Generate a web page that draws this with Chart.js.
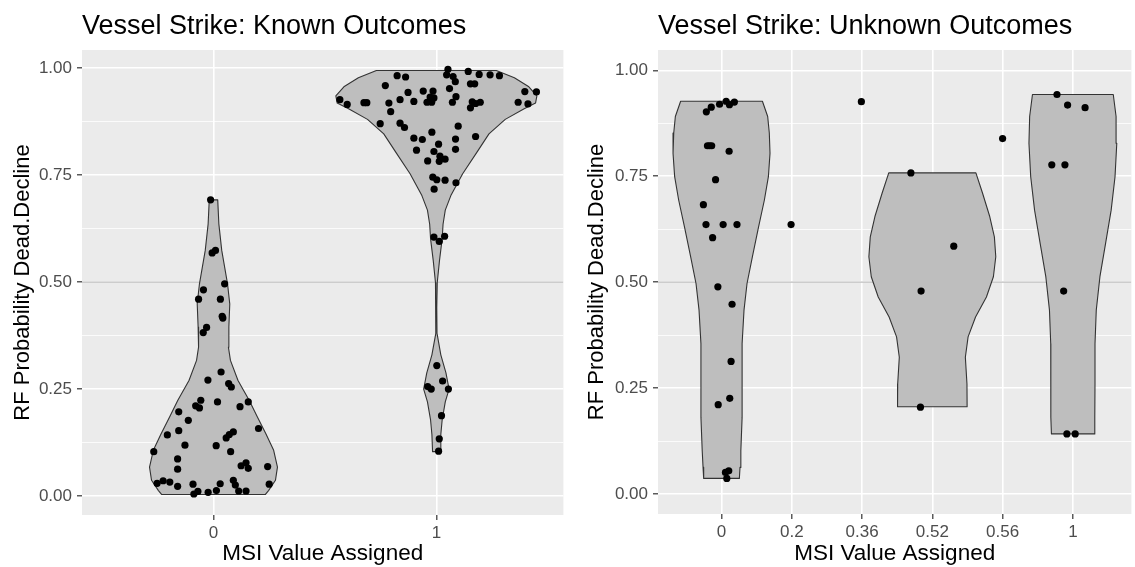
<!DOCTYPE html>
<html>
<head>
<meta charset="utf-8">
<script src="https://cdn.jsdelivr.net/npm/chart.js@4.4.0/dist/chart.umd.min.js"></script>
<style>
  html, body { margin: 0; padding: 0; background: #fff; overflow: hidden; }
  #wrap { position: relative; width: 1135px; height: 567px; }
  canvas { position: absolute; top: 0; }
</style>
</head>
<body>
<div id="wrap">
  <canvas id="knownChart" width="567" height="567" style="left:0"></canvas>
  <canvas id="unknownChart" width="568" height="567" style="left:567px"></canvas>
</div>
<script>
// shared
var cutoffLine = 0.5;
var yTickValues = [0, 0.125, 0.25, 0.375, 0.5, 0.625, 0.75, 0.875, 1];

// ---- Known outcomes ----
var knownCategories = ['0', '1'];
// jittered points (x = category index + jitter)
var knownPointX = [
  -0.013, -0.006, 0.009, 0.050, -0.045, -0.067, 0.031, 0.039, 0.042, -0.031, -0.046,
  0.034, -0.025, 0.068, 0.080, -0.057, -0.080, -0.063, 0.018, 0.156, 0.119, -0.156,
  -0.113, 0.202, -0.156, -0.207, 0.089, 0.071, 0.057, -0.128, 0.012, -0.268, 0.077,
  -0.161, -0.161, 0.124, 0.146, 0.156, 0.243, -0.253, -0.226, -0.196, -0.161, -0.092,
  0.030, 0.089, 0.098, 0.250, -0.088, -0.070, -0.024, 0.013, 0.113, 0.146,
  1.052, 1.046, 1.143, 1.075, 1.192, 1.241, 1.283, 0.824, 0.862, 0.771, 1.153, 1.172,
  1.085, 1.059, 0.873, 0.941, 0.985, 1.449, 1.397, 0.837, 0.899, 0.972, 0.958, 0.979,
  0.989, 1.088, 1.072, 1.161, 1.197, 1.176, 1.153, 1.367, 1.411, 0.567, 0.600, 0.675,
  0.688, 0.787, 0.795, 0.748, 0.837, 0.857, 0.899, 0.937, 0.980, 1.098, 1.086, 1.176,
  0.911, 1.010, 0.989, 1.086, 0.961, 1.016, 1.039, 1.013, 0.984, 1.002, 1.039, 0.990,
  1.088, 0.989, 1.037, 1.013, 1.002, 1.028, 0.961, 0.977, 1.054, 1.023, 1.013, 1.010
];
var knownPointY = [
  0.692, 0.568, 0.574, 0.496, 0.482, 0.460, 0.460, 0.420, 0.416, 0.394, 0.382,
  0.290, 0.271, 0.263, 0.255, 0.224, 0.211, 0.206, 0.220, 0.220, 0.209, 0.197,
  0.177, 0.158, 0.153, 0.143, 0.150, 0.144, 0.136, 0.119, 0.118, 0.104, 0.104,
  0.087, 0.063, 0.071, 0.078, 0.065, 0.069, 0.030, 0.036, 0.033, 0.023, 0.028,
  0.029, 0.037, 0.026, 0.028, 0.005, 0.011, 0.009, 0.013, 0.012, 0.012,
  0.997, 0.984, 0.992, 0.980, 0.985, 0.984, 0.982, 0.982, 0.979, 0.959, 0.963, 0.963,
  0.968, 0.952, 0.943, 0.946, 0.946, 0.944, 0.945, 0.926, 0.922, 0.932, 0.920, 0.920,
  0.930, 0.933, 0.920, 0.921, 0.920, 0.917, 0.907, 0.920, 0.916, 0.926, 0.915, 0.919,
  0.919, 0.918, 0.898, 0.870, 0.871, 0.861, 0.836, 0.833, 0.850, 0.864, 0.834, 0.840,
  0.808, 0.822, 0.805, 0.810, 0.783, 0.794, 0.787, 0.782, 0.745, 0.739, 0.738, 0.717,
  0.732, 0.605, 0.607, 0.595, 0.305, 0.269, 0.256, 0.250, 0.250, 0.188, 0.134, 0.105
];
// violin outlines: y levels and half widths (in category units)
var knownViolin0Y = [0.004, 0.013, 0.037, 0.068, 0.107, 0.146, 0.185, 0.224, 0.270, 0.317, 0.348, 0.395, 0.449, 0.496, 0.574, 0.636, 0.692];
var knownViolin0W = [0.233, 0.247, 0.278, 0.287, 0.270, 0.235, 0.197, 0.160, 0.110, 0.076, 0.067, 0.069, 0.073, 0.063, 0.037, 0.024, 0.019];
var knownViolin1Y = [0.104, 0.144, 0.178, 0.220, 0.250, 0.288, 0.330, 0.380, 0.440, 0.499, 0.550, 0.601, 0.635, 0.668, 0.702, 0.753, 0.804, 0.846, 0.880, 0.905, 0.918, 0.935, 0.956, 0.977, 0.994];
var knownViolin1W = [0.017, 0.020, 0.026, 0.040, 0.057, 0.043, 0.020, 0.003, 0.002, 0.004, 0.014, 0.026, 0.030, 0.040, 0.065, 0.118, 0.183, 0.236, 0.309, 0.394, 0.445, 0.451, 0.415, 0.350, 0.269];

// ---- Unknown outcomes ----
var unknownCategories = ['0', '0.2', '0.36', '0.52', '0.56', '1'];
var unknownPointX = [
  0.183, 0.066, 0.113, -0.028, -0.146, -0.216, -0.200, -0.170, -0.140, 0.108, -0.085, -0.258,
  -0.221, 0.023, 0.220, -0.127, -0.052, 0.150, 0.136, 0.117, -0.047, 0.056, 0.103, 0.075,
  0.990, 1.990, 2.695, 3.305, 2.840, 2.831, 4.000,
  4.774, 4.925, 5.174, 4.700, 4.887, 4.869, 4.915, 5.033
];
var unknownPointY = [
  0.925, 0.927, 0.919, 0.920, 0.913, 0.902, 0.822, 0.822, 0.822, 0.809, 0.742, 0.683,
  0.636, 0.636, 0.636, 0.605, 0.489, 0.448, 0.313, 0.226, 0.211, 0.051, 0.055, 0.037,
  0.636, 0.926, 0.758, 0.585, 0.479, 0.205, 0.839,
  0.943, 0.918, 0.912, 0.777, 0.777, 0.479, 0.142, 0.142
];
var unknownViolin0Y = [0.037, 0.063, 0.103, 0.181, 0.260, 0.355, 0.434, 0.497, 0.560, 0.631, 0.694, 0.749, 0.804, 0.852, 0.891, 0.927];
var unknownViolin0W = [0.254, 0.263, 0.275, 0.293, 0.293, 0.293, 0.320, 0.363, 0.439, 0.528, 0.610, 0.667, 0.690, 0.680, 0.657, 0.582];
var unknownViolin3Y = [0.206, 0.260, 0.323, 0.371, 0.418, 0.465, 0.513, 0.560, 0.607, 0.655, 0.710, 0.758];
var unknownViolin3W = [0.495, 0.493, 0.470, 0.509, 0.615, 0.770, 0.869, 0.903, 0.883, 0.817, 0.715, 0.620];
var unknownViolin5Y = [0.142, 0.181, 0.260, 0.355, 0.434, 0.513, 0.591, 0.670, 0.749, 0.828, 0.891, 0.943];
var unknownViolin5W = [0.305, 0.312, 0.315, 0.315, 0.333, 0.385, 0.465, 0.545, 0.600, 0.625, 0.615, 0.575];

var fontFamily = "'Liberation Sans', Arial, sans-serif";

function toPoints(xs, ys) {
  var out = [];
  for (var i = 0; i < xs.length; i++) out.push({x: xs[i], y: ys[i]});
  return out;
}

function violinPath(center, levels, halfWidths) {
  var pts = [];
  for (var i = 0; i < levels.length; i++) pts.push({x: center + halfWidths[i], y: levels[i]});
  for (var j = levels.length - 1; j >= 0; j--) pts.push({x: center - halfWidths[j], y: levels[j]});
  pts.push({x: pts[0].x, y: pts[0].y});
  return pts;
}

function violinDataset(path) {
  return {
    data: path, showLine: true, fill: 'shape',
    backgroundColor: '#BEBEBE', borderColor: '#333333', borderWidth: 1.1,
    borderJoinStyle: 'round', borderCapStyle: 'round',
    pointRadius: 0, pointHoverRadius: 0, pointHitRadius: 0, tension: 0, order: 2
  };
}

function isMajor(v) {
  return Math.abs(v * 4 - Math.round(v * 4)) < 1e-6;
}

var panelBackground = {
  id: 'panelBackground',
  beforeDraw: function(chart) {
    var a = chart.chartArea;
    var ctx = chart.ctx;
    ctx.save();
    ctx.fillStyle = '#EBEBEB';
    ctx.fillRect(a.left, a.top, a.right - a.left, a.bottom - a.top);
    ctx.restore();
  }
};

function makePanel(canvasId, cfg) {
  var ctx = document.getElementById(canvasId).getContext('2d');
  var datasets = [{
    data: [{x: cfg.xMin, y: cutoffLine}, {x: cfg.xMax, y: cutoffLine}],
    showLine: true, borderColor: '#BEBEBE', borderWidth: 1.2, pointRadius: 0, order: 3
  }];
  cfg.violins.forEach(function(v) { datasets.push(violinDataset(v)); });
  datasets.push({
    data: cfg.points, showLine: false, pointRadius: 3.6, pointHoverRadius: 3.6,
    backgroundColor: '#000000', borderWidth: 0, order: 1
  });

  return new Chart(ctx, {
    type: 'scatter',
    data: { datasets: datasets },
    plugins: [panelBackground],
    options: {
      responsive: false,
      animation: false,
      events: [],
      layout: { padding: { left: 0, right: cfg.padRight, top: 0, bottom: 0 } },
      plugins: {
        legend: { display: false },
        tooltip: { enabled: false },
        title: {
          display: true, text: cfg.title, align: 'start', fullSize: false,
          color: '#000000', font: { family: fontFamily, size: 27, weight: 'normal' },
          padding: { top: 10.2, bottom: 7.4 }
        }
      },
      scales: {
        x: {
          type: 'linear', min: cfg.xMin, max: cfg.xMax, bounds: 'data',
          afterBuildTicks: function(scale) {
            scale.ticks = cfg.categories.map(function(c, i) { return {value: i}; });
          },
          afterFit: function(scale) { scale.height = cfg.xAxisHeight; },
          ticks: {
            autoSkip: false, maxRotation: 0, padding: 3,
            color: '#4D4D4D', font: { family: fontFamily, size: 17 },
            callback: function(v) { return cfg.categories[Math.round(v)]; }
          },
          grid: { color: '#FFFFFF', lineWidth: 1.6, tickColor: '#333333', tickLength: 5, tickWidth: 1.2 },
          border: { display: false },
          title: {
            display: true, text: 'MSI Value Assigned', color: '#000000',
            font: { family: fontFamily, size: 22.5 }, padding: { top: 0, bottom: 0 }
          }
        },
        y: {
          min: cfg.yMin, max: cfg.yMax, bounds: 'data',
          afterBuildTicks: function(scale) {
            scale.ticks = yTickValues.map(function(v) { return {value: v}; });
          },
          afterFit: function(scale) { scale.width = cfg.yAxisWidth; },
          ticks: {
            autoSkip: false, padding: 5,
            color: '#4D4D4D', font: { family: fontFamily, size: 17 },
            callback: function(v) { return isMajor(v) ? v.toFixed(2) : ''; }
          },
          grid: {
            color: '#FFFFFF',
            lineWidth: function(c) { return isMajor(c.tick.value) ? 1.6 : 0.8; },
            tickColor: function(c) { return isMajor(c.tick.value) ? '#333333' : 'rgba(0,0,0,0)'; },
            tickLength: 5, tickWidth: 1.2
          },
          border: { display: false },
          title: {
            display: true, text: 'RF Probability Dead.Decline', color: '#000000',
            font: { family: fontFamily, size: 22 }, padding: { top: cfg.yTitlePad, bottom: 0 }
          }
        }
      }
    }
  });
}

makePanel('knownChart', {
  title: 'Vessel Strike: Known Outcomes',
  categories: knownCategories,
  points: toPoints(knownPointX, knownPointY),
  violins: [
    violinPath(0, knownViolin0Y, knownViolin0W),
    violinPath(1, knownViolin1Y, knownViolin1W)
  ],
  xMin: -0.59, xMax: 1.57, yMin: -0.044, yMax: 1.042,
  padRight: 2, xAxisHeight: 52, yAxisWidth: 82, yTitlePad: 9.3
});

makePanel('unknownChart', {
  title: 'Vessel Strike: Unknown Outcomes',
  categories: unknownCategories,
  points: toPoints(unknownPointX, unknownPointY),
  violins: [
    violinPath(0, unknownViolin0Y, unknownViolin0W),
    violinPath(3, unknownViolin3Y, unknownViolin3W),
    violinPath(5, unknownViolin5Y, unknownViolin5W)
  ],
  xMin: -0.904, xMax: 5.833, yMin: -0.047, yMax: 1.048,
  padRight: 0, xAxisHeight: 53, yAxisWidth: 91, yTitlePad: 16.8
});
</script>
</body>
</html>
